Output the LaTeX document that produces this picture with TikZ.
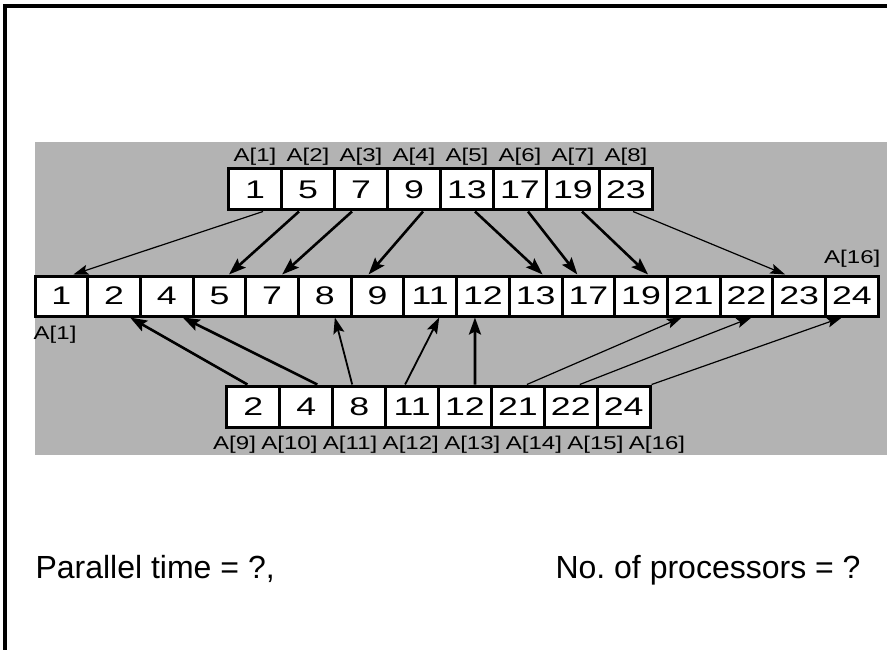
\documentclass[tikz,border=0pt]{standalone}
\usepackage{fontspec}
\setmainfont{Liberation Sans}
\newfontfamily\cellfont[FakeStretch=1.4]{Liberation Sans}
\newfontfamily\idxfont[FakeStretch=1.3]{Liberation Sans}
\usetikzlibrary{arrows.meta, positioning}

\definecolor{panelgray}{RGB}{179,179,179}

\tikzset{
  cell/.style={draw, line width=3pt, fill=white, minimum width=53pt, minimum height=41pt,
    inner sep=0pt, font=\fontsize{25.5}{25.5}\selectfont\cellfont},
  idx/.style={inner sep=0pt, font=\fontsize{18.5}{18.5}\selectfont\idxfont},
  bigarrow/.style={-{Stealth[length=17pt, width=12pt, inset=3pt]}, line width=2.6pt},
  midarrow/.style={-{Stealth[length=16pt, width=11pt, inset=3pt]}, line width=1.8pt},
  smallarrow/.style={-{Stealth[length=15pt, width=10pt, inset=3pt]}, line width=1.2pt},
}

\begin{document}
\begin{tikzpicture}[x=1pt, y=-1pt]
    \useasboundingbox (0,0) rectangle (887,650);

    % slide frame and grey panel
    \draw[line width=3.5pt] (5,650) -- (5,6) -- (887,6);
    \fill[panelgray] (35,142) rectangle (887,455);

    % first sorted half A[1..8]
    \foreach \v [count=\i] in {1,5,7,9,13,17,19,23} {
        \node[cell] (t\i) at ({255+53*(\i-1)},189.5) {\v};
        \node[idx, above=2pt of t\i] (tl\i) {A[\i]};
    }

    % merged array A[1..16]
    \foreach \v [count=\i] in {1,2,4,5,7,8,9,11,12,13,17,19,21,22,23,24}
        \node[cell, minimum width=52.7pt, minimum height=40pt] (m\i) at ({61.35+52.7*(\i-1)},296) {\v};
    \node[idx, below right=8pt and 0pt of m1.south west] (mfirst) {A[1]};
    \node[idx, above right=7pt and 0pt of m16.north west] (mlast) {A[16]};

    % second sorted half A[9..16]
    \foreach \v [count=\i] in {2,4,8,11,12,21,22,24}
        \node[cell, minimum width=52.9pt] (b\i) at ({253.4+52.9*(\i-1)},406.5) {\v};
    \node[idx, anchor=west] (bl9) at (213,445) {A[9]};
    \foreach \i [remember=\i as \j (initially 9)] in {10,...,16}
        \node[idx, right=5pt of bl\j] (bl\i) {A[\i]};

    % Connections: first half into merged array
    \draw[smallarrow] ([xshift=8pt]t1.south) -- ([xshift=12pt]m1.north);
    \draw[bigarrow] ([xshift=-9pt]t2.south) -- ([xshift=9.5pt]m4.north);
    \draw[bigarrow] ([xshift=-9pt]t3.south) -- ([xshift=10pt]m5.north);
    \draw[bigarrow] ([xshift=9pt]t4.south) -- ([xshift=-9pt]m7.north);
    \draw[bigarrow] ([xshift=8pt]t5.south) -- ([xshift=7pt]m10.north);
    \draw[bigarrow] ([xshift=8pt]t6.south) -- ([xshift=-11pt]m11.north);
    \draw[bigarrow] ([xshift=9pt]t7.south) -- ([xshift=7pt]m12.north);
    \draw[smallarrow] ([xshift=7pt]t8.south) -- ([xshift=-14pt]m15.north);

    % Connections: second half into merged array
    \draw[bigarrow] ([xshift=-6pt]b1.north) -- ([xshift=16pt]m2.south);
    \draw[bigarrow] ([xshift=11pt]b2.north) -- ([xshift=16pt]m3.south);
    \draw[midarrow] ([xshift=-7pt]b3.north) -- ([xshift=10pt]m6.south);
    \draw[midarrow] ([xshift=-7pt]b4.north) -- ([xshift=9pt]m8.south);
    \draw[bigarrow] ([xshift=10pt]b5.north) -- ([xshift=-8pt]m9.south);
    \draw[smallarrow] ([xshift=9pt]b6.north) -- ([xshift=-12pt]m13.south);
    \draw[smallarrow] ([xshift=9pt]b7.north) -- ([xshift=5pt]m14.south);
    \draw[smallarrow] (b8.north east) -- ([xshift=-10pt]m16.south);

    % questions
    \node[anchor=base west, font=\fontsize{32}{32}\selectfont] (ptime) at (32,578) {Parallel time = ?,};
    \node[anchor=base west, font=\fontsize{32}{32}\selectfont] (nproc) at (552,578) {No.\ of processors = ?};
\end{tikzpicture}
\end{document}
